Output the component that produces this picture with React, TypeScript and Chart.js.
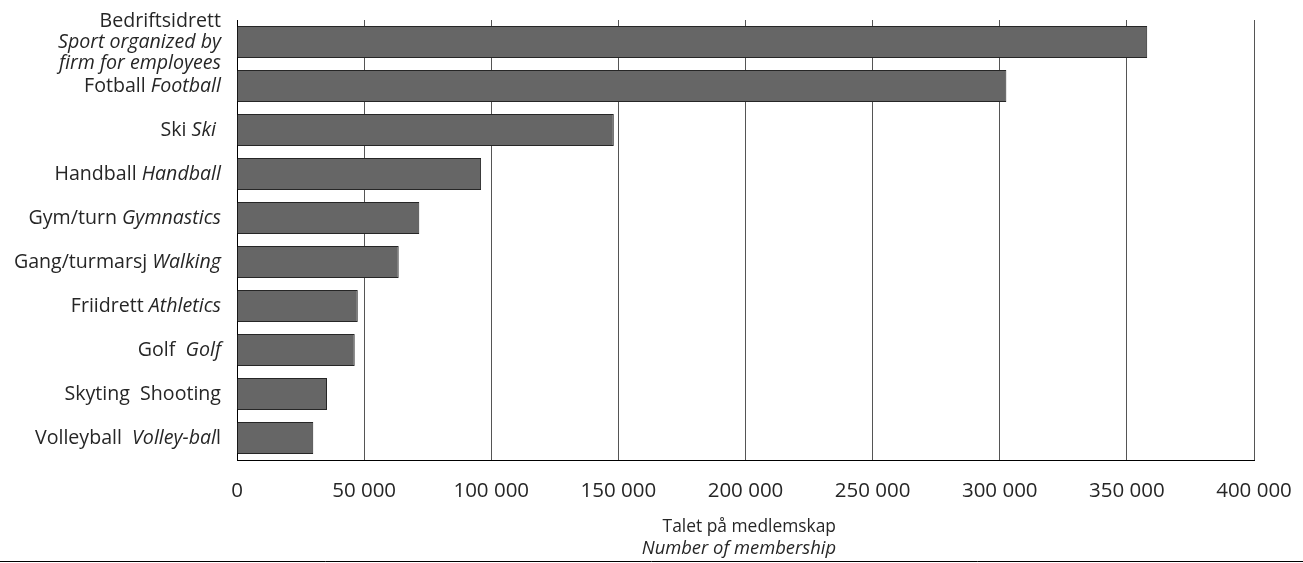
import React, { useEffect, useRef } from "react";
import { Chart, registerables } from "chart.js";

Chart.register(...registerables);

const categories = [
  "Bedriftsidrett Sport organized by firm for employees",
  "Fotball Football",
  "Ski Ski",
  "Handball Handball",
  "Gym/turn Gymnastics",
  "Gang/turmarsj Walking",
  "Friidrett Athletics",
  "Golf Golf",
  "Skyting Shooting",
  "Volleyball Volley-ball",
];

// label segments: [text, italic]
const labelLines: [string, boolean][][][] = [
  [[["Bedriftsidrett", false]], [["Sport organized by", true]], [["firm for employees", true]]],
  [[["Fotball ", false], ["Football", true]]],
  [[["Ski ", false], ["Ski", true], [" ", false]]],
  [[["Handball ", false], ["Handball", true]]],
  [[["Gym/turn ", false], ["Gymnastics", true]]],
  [[["Gang/turmarsj ", false], ["Walking", true]]],
  [[["Friidrett ", false], ["Athletics", true]]],
  [[["Golf  ", false], ["Golf", true]]],
  [[["Skyting  Shooting", false]]],
  [[["Volleyball  ", false], ["Volley-bal", true], ["l", false]]],
];

const memberships = [358000, 302600, 148200, 96000, 71700, 63600, 47500, 46300, 35400, 30000];

const xTitleLines: [string, boolean][] = [
  ["Talet på medlemskap", false],
  ["Number of membership", true],
];

const FONT = "'Open Sans', 'Noto Sans', sans-serif";
const TEXT = "#262626";

const labelPlugin = {
  id: "mixedLabels",
  afterDraw(chart: any) {
    const ctx = chart.ctx;
    const yScale = chart.scales.y;
    const size = 19.6;
    const lh = 21;
    const right = 221;
    ctx.save();
    ctx.fillStyle = TEXT;
    ctx.textBaseline = "middle";
    ctx.textAlign = "left";
    labelLines.forEach((lines, i) => {
      const yc = yScale.getPixelForValue(i);
      const n = lines.length;
      lines.forEach((segs, li) => {
        const y = yc + 0.5 + (li - (n - 1) / 2) * lh;
        let x = right;
        for (let s = segs.length - 1; s >= 0; s--) {
          const [t, it] = segs[s];
          ctx.font = `${it ? "italic " : ""}${size}px ${FONT}`;
          const w = ctx.measureText(t).width;
          x -= w;
          ctx.fillText(t, x, y);
        }
      });
    });
    // x axis title, right-aligned
    ctx.textAlign = "right";
    const titleRight = 836;
    const titleSizes = [17.4, 18.4];
    xTitleLines.forEach(([t, it], li) => {
      ctx.font = `${it ? "italic " : ""}${titleSizes[li]}px ${FONT}`;
      ctx.fillText(t, titleRight, 527 + li * 22);
    });
    // bottom rule
    ctx.strokeStyle = "#000";
    ctx.lineWidth = 1;
    ctx.beginPath();
    ctx.moveTo(0, chart.height - 1.5);
    ctx.lineTo(chart.width, chart.height - 1.5);
    ctx.stroke();
    ctx.restore();
  },
};

export default function App() {
  const ref = useRef<HTMLCanvasElement>(null);
  useEffect(() => {
    if (!ref.current) return;
    const chart = new Chart(ref.current, {
      type: "bar",
      data: {
        labels: categories,
        datasets: [
          {
            data: memberships,
            backgroundColor: "#666666",
            borderColor: "#262626",
            borderWidth: 1,
            barPercentage: 0.73,
            categoryPercentage: 1,
          },
        ],
      },
      options: {
        indexAxis: "y",
        animation: false,
        responsive: false,
        devicePixelRatio: 1,
        layout: { padding: { top: 20, right: 49, left: 0, bottom: 0 } },
        plugins: { legend: { display: false }, tooltip: { enabled: false } },
        scales: {
          x: {
            min: 0,
            max: 400000,
            afterFit: (s: any) => {
              s.height = 103;
              s.paddingLeft = 0;
              s.paddingRight = 0;
            },
            ticks: {
              stepSize: 50000,
              padding: 19,
              color: TEXT,
              font: { family: FONT, size: 20.5 },
              maxRotation: 0,
              callback: (v: any) =>
                Number(v)
                  .toString()
                  .replace(/\B(?=(\d{3})+(?!\d))/g, " "),
            },
            grid: { color: "#555555", lineWidth: 1, drawTicks: false },
            border: { color: "#000000", width: 1 },
          },
          y: {
            afterFit: (s: any) => {
              s.width = 237;
              s.paddingTop = 0;
              s.paddingBottom = 0;
            },
            ticks: { display: false },
            grid: { display: false, drawTicks: false },
            border: { color: "#000000", width: 1 },
          },
        },
      },
      plugins: [labelPlugin],
    });
    return () => chart.destroy();
  }, []);
  return (
    <div style={{ position: "absolute", left: 0, top: 0, width: 1303, height: 563, background: "#fff" }}>
      <canvas ref={ref} width={1303} height={563} />
    </div>
  );
}
